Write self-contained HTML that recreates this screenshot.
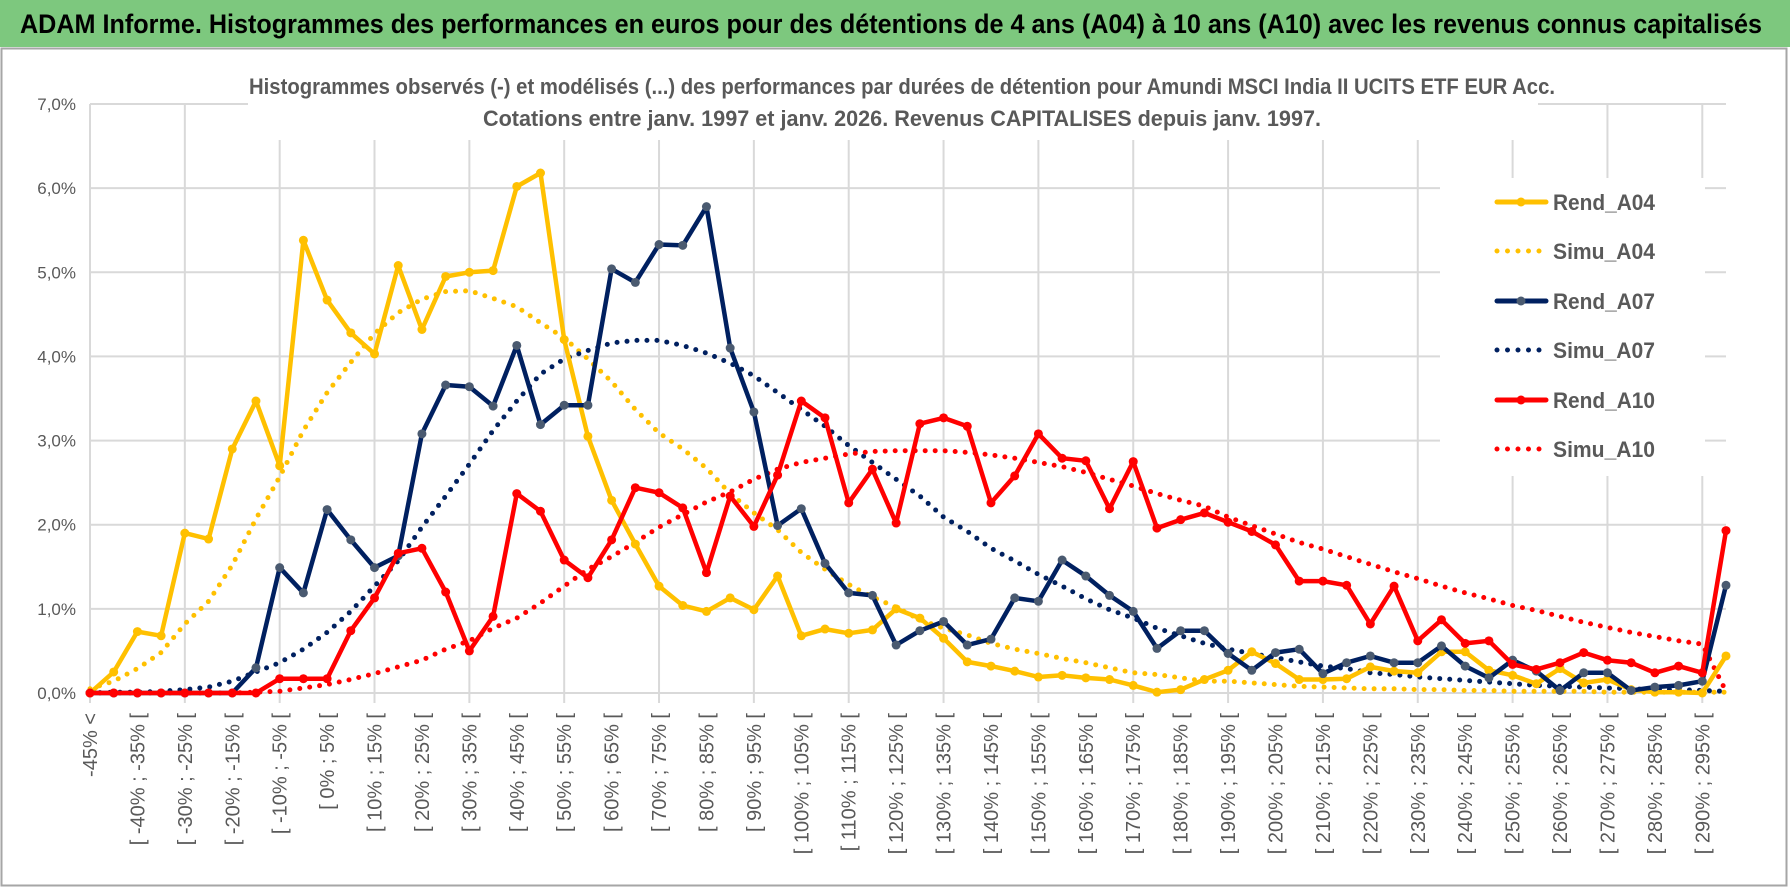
<!DOCTYPE html>
<html><head><meta charset="utf-8">
<style>
html,body{margin:0;padding:0;background:#fff;}
svg{display:block;font-family:"Liberation Sans",sans-serif;}
</style></head>
<body>
<svg id="chart" width="1790" height="888" viewBox="0 0 1790 888" xmlns="http://www.w3.org/2000/svg">
  <rect x="0" y="0" width="1790" height="888" fill="#fff"/>
  <rect x="0" y="0" width="1790" height="47" fill="#7DC87E"/>
  <text x="20" y="33" font-size="27" font-weight="bold" fill="#000" textLength="1742" lengthAdjust="spacingAndGlyphs">ADAM Informe. Histogrammes des performances en euros pour des détentions de 4 ans (A04) à 10 ans (A10) avec les revenus connus capitalisés</text>
  <rect x="1.5" y="48.5" width="1785" height="837" fill="none" stroke="#A6A6A6" stroke-width="2"/>
  <g id="grid"></g>
  <rect x="248" y="60" width="1290" height="80" fill="#fff"/>
  <text x="902" y="94" font-size="22" font-weight="bold" fill="#595959" text-anchor="middle" textLength="1306" lengthAdjust="spacingAndGlyphs">Histogrammes observés (-) et modélisés (...) des performances par durées de détention pour Amundi MSCI India II UCITS ETF EUR Acc.</text>
  <text x="902" y="126" font-size="22" font-weight="bold" fill="#595959" text-anchor="middle" textLength="838" lengthAdjust="spacingAndGlyphs">Cotations entre janv. 1997 et janv. 2026. Revenus CAPITALISES depuis janv. 1997.</text>
  <rect x="1440" y="178" width="265" height="298" fill="#fff"/>
  <g id="axes"></g>
  <g id="series"></g>
  <g id="legend"></g>
</svg>
<script>
const categories = ["-45% <"];
for (let k = 1; k < 69; k++) { categories.push("[ " + (-50 + 5*k) + "% ; " + (-45 + 5*k) + "% ["); }
categories.push("> 295%");
const yTicks = [0,1,2,3,4,5,6,7];
const yTickLabels = ["0,0%","1,0%","2,0%","3,0%","4,0%","5,0%","6,0%","7,0%"];
const seriesNames = ["Rend_A04","Simu_A04","Rend_A07","Simu_A07","Rend_A10","Simu_A10"];

const rendA04 = [0,0.25,0.73,0.68,1.9,1.83,2.9,3.47,2.7,5.38,4.67,4.28,4.03,5.08,4.32,4.95,5.0,5.02,6.02,6.18,4.2,3.05,2.29,1.77,1.27,1.04,0.97,1.13,0.99,1.39,0.68,0.76,0.71,0.75,1.0,0.89,0.65,0.37,0.32,0.26,0.19,0.21,0.18,0.16,0.09,0.01,0.04,0.16,0.27,0.49,0.35,0.16,0.16,0.17,0.31,0.26,0.24,0.49,0.49,0.27,0.21,0.11,0.29,0.12,0.16,0.04,0.01,0.01,0.0,0.44];
const simuA04 = [0.05,0.14,0.29,0.48,0.82,1.09,1.52,2.07,2.57,3.12,3.57,3.93,4.27,4.52,4.68,4.77,4.78,4.69,4.59,4.4,4.22,3.97,3.7,3.37,3.09,2.9,2.67,2.37,2.14,1.94,1.67,1.47,1.29,1.14,1.02,0.87,0.77,0.69,0.59,0.52,0.47,0.41,0.36,0.3,0.24,0.22,0.18,0.14,0.14,0.12,0.1,0.08,0.07,0.06,0.05,0.05,0.04,0.04,0.03,0.03,0.02,0.02,0.02,0.02,0.01,0.01,0.01,0.01,0.01,0.01];
const rendA07 = [0,0,0,0,0,0,0,0.3,1.49,1.19,2.18,1.82,1.49,1.63,3.08,3.66,3.64,3.41,4.13,3.19,3.42,3.42,5.04,4.88,5.33,5.32,5.78,4.1,3.34,1.99,2.19,1.54,1.19,1.16,0.57,0.74,0.85,0.57,0.64,1.13,1.09,1.58,1.39,1.16,0.97,0.53,0.74,0.74,0.47,0.27,0.48,0.52,0.23,0.36,0.44,0.36,0.36,0.56,0.32,0.18,0.39,0.26,0.03,0.24,0.24,0.03,0.07,0.09,0.14,1.28];
const simuA07 = [0,0.01,0.01,0.02,0.04,0.07,0.14,0.25,0.36,0.52,0.72,0.97,1.27,1.57,1.97,2.34,2.72,3.12,3.47,3.79,3.97,4.07,4.16,4.19,4.19,4.13,4.04,3.92,3.77,3.57,3.37,3.17,2.94,2.74,2.54,2.34,2.09,1.92,1.72,1.57,1.41,1.27,1.12,0.99,0.89,0.77,0.68,0.59,0.52,0.47,0.42,0.37,0.32,0.29,0.24,0.22,0.19,0.17,0.15,0.13,0.11,0.09,0.08,0.07,0.06,0.05,0.04,0.04,0.03,0.02];
const rendA10 = [0,0,0,0,0,0,0,0,0.17,0.17,0.17,0.74,1.13,1.66,1.72,1.2,0.5,0.91,2.37,2.16,1.58,1.37,1.82,2.44,2.38,2.2,1.43,2.34,1.98,2.59,3.47,3.27,2.26,2.66,2.02,3.2,3.27,3.17,2.26,2.58,3.08,2.79,2.76,2.19,2.75,1.96,2.06,2.14,2.03,1.92,1.76,1.33,1.33,1.28,0.82,1.27,0.62,0.87,0.59,0.62,0.34,0.28,0.36,0.48,0.39,0.36,0.24,0.32,0.24,1.93];
const simuA10 = [0,0,0,0,0,0,0,0.01,0.02,0.06,0.1,0.16,0.23,0.31,0.39,0.52,0.62,0.77,0.89,1.07,1.27,1.47,1.62,1.79,1.97,2.12,2.27,2.39,2.54,2.66,2.74,2.79,2.84,2.87,2.88,2.88,2.88,2.86,2.83,2.79,2.74,2.69,2.62,2.54,2.46,2.37,2.29,2.22,2.09,1.99,1.89,1.79,1.71,1.62,1.53,1.44,1.36,1.27,1.19,1.12,1.04,0.98,0.91,0.84,0.78,0.72,0.67,0.62,0.58,0.02];

const NS = "http://www.w3.org/2000/svg";
const X0 = 90, X1 = 1726, Y0 = 693, Y7 = 104;
function xPos(i){ return X0 + i*(X1-X0)/(categories.length-1); }
function yPos(v){ return Y0 - v*(Y0-Y7)/7; }
function mk(tag, attrs, parent){ const e=document.createElementNS(NS,tag); for(const k in attrs) e.setAttribute(k,attrs[k]); parent.appendChild(e); return e; }

const grid = document.getElementById("grid");
yTicks.forEach((t)=>{
  const l = mk("line",{x1:X0,x2:X1,y1:yPos(t),y2:yPos(t),stroke:"#D9D9D9","stroke-width":2},grid);
  
  
});
for(let i=0;i<categories.length;i+=4){
  const l = mk("line",{x1:xPos(i),x2:xPos(i),y1:Y7,y2:Y0+10,stroke:"#D9D9D9","stroke-width":2},grid);
  
  
}

const axes = document.getElementById("axes");
yTicks.forEach((t,k)=>{
  const tx = mk("text",{x:76,y:yPos(t)+6,"font-size":17,fill:"#595959","text-anchor":"end"},axes);
  tx.textContent = yTickLabels[k];
  
  
});
categories.forEach((c,i)=>{
  if(i%2!==0) return;
  const x = xPos(i)+7, y = 713;
  const tx = mk("text",{x:x,y:y,"font-size":20,fill:"#595959","text-anchor":"end",transform:"rotate(-90 "+x+" "+y+")"},axes);
  tx.textContent = c;
  
  
});

const series = document.getElementById("series");
function pts(arr){ return arr.map((v,i)=>xPos(i).toFixed(1)+","+yPos(v).toFixed(1)).join(" "); }
function dotted(arr,color,name){
  const p = mk("polyline",{points:pts(arr),fill:"none",stroke:color,"stroke-width":5,"stroke-linecap":"round","stroke-dasharray":"0 10"},series);
  
  
}
function solid(arr,color,markerColor,name){
  const g = mk("g",{},series);
  
  
  mk("polyline",{points:pts(arr),fill:"none",stroke:color,"stroke-width":4.5,"stroke-linejoin":"round"},g);
  arr.forEach((v,i)=>{
    const c = mk("circle",{cx:xPos(i),cy:yPos(v),r:4.5,fill:markerColor},g);
    
    
  });
}
dotted(simuA04,"#FFC000","simu-a04-line");
dotted(simuA07,"#002060","simu-a07-line");
dotted(simuA10,"#FF0000","simu-a10-line");
solid(rendA04,"#FFC000","#FFC000","rend-a04-line");
solid(rendA07,"#002060","#4A5A70","rend-a07-line");
solid(rendA10,"#FF0000","#FF0000","rend-a10-line");

const legend = document.getElementById("legend");
const legColors = ["#FFC000","#FFC000","#002060","#002060","#FF0000","#FF0000"];
const legMarker = ["#FFC000",null,"#4A5A70",null,"#FF0000",null];
const legY = [202,251,301,350,400,449];
seriesNames.forEach((n,k)=>{
  const g = mk("g",{},legend);
  
  
  const y = legY[k];
  if(legMarker[k]){
    mk("line",{x1:1497,x2:1546,y1:y,y2:y,stroke:legColors[k],"stroke-width":5,"stroke-linecap":"round"},g);
    mk("circle",{cx:1521,cy:y,r:4.5,fill:legMarker[k]},g);
  } else {
    mk("line",{x1:1497,x2:1546,y1:y,y2:y,stroke:legColors[k],"stroke-width":5,"stroke-linecap":"round","stroke-dasharray":"0 10.5"},g);
  }
  const t = mk("text",{x:1553,y:y+8,"font-size":22,"font-weight":"bold",fill:"#595959",textLength:102,lengthAdjust:"spacingAndGlyphs"},g);
  t.textContent = n;
});
</script>
</body></html>
